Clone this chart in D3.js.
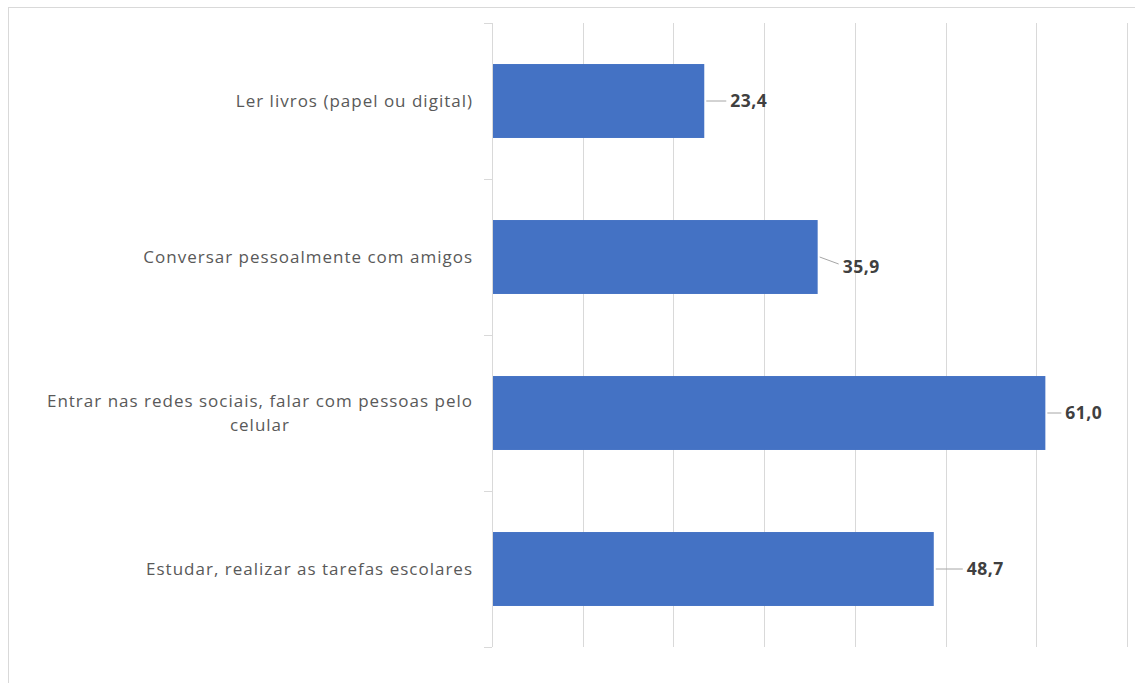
<!DOCTYPE html>
<html><head><meta charset="utf-8">
<script src="https://cdn.jsdelivr.net/npm/d3@7"></script>
<style>html,body{margin:0;padding:0;background:#fff;overflow:hidden}</style>
</head><body>
<svg id="c" width="1135" height="683"></svg>
<script>
const categories = [
  "Ler livros (papel ou digital)",
  "Conversar pessoalmente com amigos",
  "Entrar nas redes sociais, falar com pessoas pelo celular",
  "Estudar, realizar as tarefas escolares"
];
const values = [23.4, 35.9, 61.0, 48.7];
const valueLabels = ["23,4", "35,9", "61,0", "48,7"];
const xTicks = [0, 10, 20, 30, 40, 50, 60, 70];

// layout (kept separate from data)
const labelDx = [26, 25, 20, 33];
const labelDy = [0, 10, 0, 0];
const wrapAt = [null, null, "pelo", null];

const svg = d3.select("#c");
svg.append("rect").attr("x", 8.5).attr("y", 7.5).attr("width", 1200).attr("height", 800)
  .attr("fill", "#fff").attr("stroke", "#d9d9d9");

const x = d3.scaleLinear().domain([0, 70]).range([492, 1127]);
const y = d3.scaleBand().domain(categories).range([23, 647]).paddingInner(0.526).paddingOuter(0.263);

// gridlines
svg.append("g").selectAll("line").data(xTicks).join("line")
  .attr("x1", d => Math.round(x(d)) + 0.5).attr("x2", d => Math.round(x(d)) + 0.5)
  .attr("y1", 23).attr("y2", 647)
  .attr("stroke", "#d9d9d9").attr("stroke-width", 1);

// y axis ticks at band boundaries
const step = y.step();
const bounds = d3.range(categories.length + 1).map(i => 23 + i * step);
svg.append("g").selectAll("line").data(bounds).join("line")
  .attr("x1", 484).attr("x2", 492).attr("y1", d => Math.round(d) + 0.5).attr("y2", d => Math.round(d) + 0.5)
  .attr("stroke", "#d9d9d9");

// bars
svg.append("g").selectAll("rect").data(categories).join("rect")
  .attr("x", x(0) + 1).attr("y", d => y(d))
  .attr("width", (d, i) => x(values[i]) - x(0) - 1)
  .attr("height", y.bandwidth())
  .attr("fill", "#4472c4");

// category labels
const catG = svg.append("g");
categories.forEach((c, i) => {
  const cy = y(c) + y.bandwidth() / 2;
  let lines = [c];
  if (wrapAt[i]) {
    const k = c.indexOf(wrapAt[i]) + wrapAt[i].length;
    lines = [c.slice(0, k), c.slice(k).trim()];
  }
  const t = catG.append("text")
    .attr("font-family", "Open Sans, sans-serif").attr("font-size", 17)
    .attr("letter-spacing", 1).attr("fill", "#595959");
  const lh = 24;
  lines.forEach((l, j) => {
    t.append("tspan").attr("y", cy + (j - (lines.length - 1) / 2) * lh).attr("dy", "0.35em").text(l);
  });
  if (lines.length === 1) {
    t.attr("text-anchor", "end").selectAll("tspan").attr("x", 473);
  } else {
    const ws = t.selectAll("tspan").nodes().map(n => n.getComputedTextLength());
    const mw = d3.max(ws);
    t.attr("text-anchor", "middle").selectAll("tspan").attr("x", 473 - mw / 2);
  }
});

// value labels with leader lines
const vg = svg.append("g");
values.forEach((v, i) => {
  const cy = y(categories[i]) + y.bandwidth() / 2;
  const bx = x(v);
  const lx = bx + labelDx[i];
  const ly = cy + labelDy[i];
  vg.append("path")
    .attr("d", `M${bx + 2},${cy} L${lx - 4},${ly - (labelDy[i] ? 3 : 0)}`)
    .attr("stroke", "#a6a6a6").attr("fill", "none").attr("stroke-width", 1);
  vg.append("text").attr("x", lx).attr("y", ly).attr("dy", "0.35em")
    .attr("font-family", "Open Sans, sans-serif").attr("font-size", 17.5).attr("font-weight", "bold")
    .attr("letter-spacing", 0.5).attr("fill", "#404040").text(valueLabels[i]);
});
</script>
</body></html>
